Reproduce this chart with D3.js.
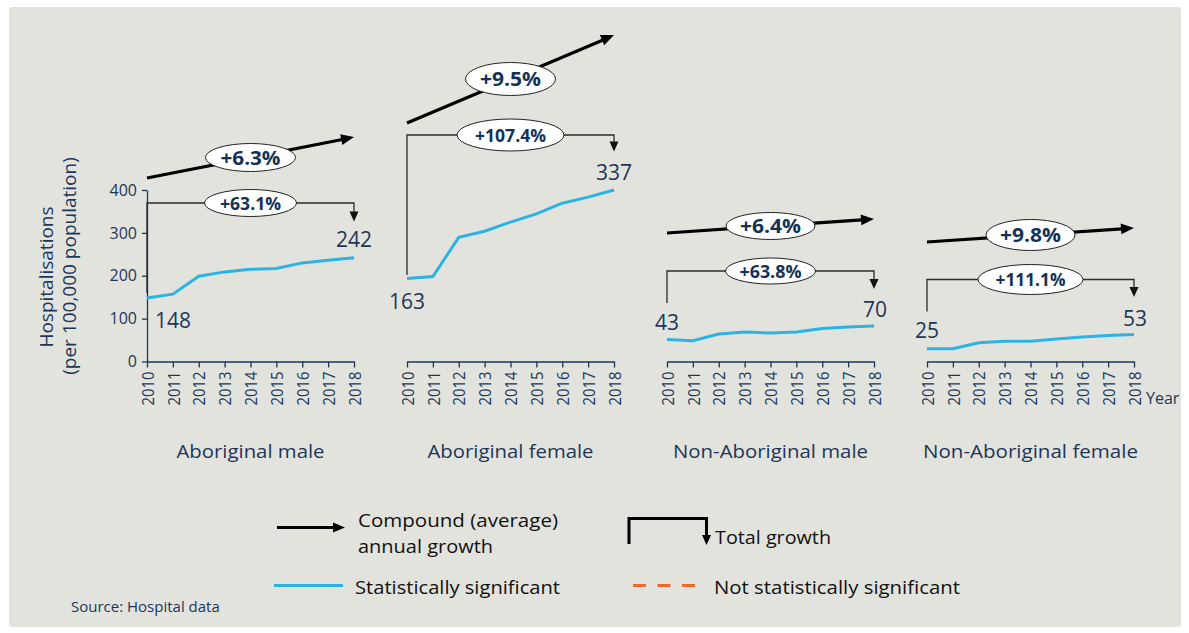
<!DOCTYPE html>
<html>
<head>
<meta charset="utf-8">
<script src="https://cdn.jsdelivr.net/npm/d3@7/dist/d3.min.js"></script>
<style>
  html, body { margin: 0; padding: 0; background: #ffffff; }
  svg { display: block; font-family: "Open Sans", "Noto Sans", sans-serif; }
</style>
</head>
<body>
<svg id="chart" width="1189" height="633"></svg>
<script>
// Hospitalisation rates per 100,000 population, 2010–2018
const years = [2010, 2011, 2012, 2013, 2014, 2015, 2016, 2017, 2018];
const groups = ["Aboriginal male", "Aboriginal female", "Non-Aboriginal male", "Non-Aboriginal female"];
const aboriginalMale = [148, 157, 199, 209, 215, 217, 230, 236, 242];
const aboriginalFemale = [163, 167, 244, 256, 274, 290, 311, 323, 337];
const nonAboriginalMale = [43, 41, 54, 58, 56, 58, 65, 68, 70];
const nonAboriginalFemale = [25, 25, 37, 40, 40, 44, 48, 51, 53];
const compoundGrowth = ["+6.3%", "+9.5%", "+6.4%", "+9.8%"];
const totalGrowth = ["+63.1%", "+107.4%", "+63.8%", "+111.1%"];
const yTicks = [0, 100, 200, 300, 400];

const seriesValues = [aboriginalMale, aboriginalFemale, nonAboriginalMale, nonAboriginalFemale];

// Vertical extent of each small multiple's value axis
const yDomainMax = [400, 337, 337, 337];

// Annotation geometry (pixels) for each panel
const compoundLayout = [
  { y0: 178, y1: 137, w: 90, h: 28, tl: 60 },
  { y0: 123, y1: 35,  w: 90, h: 33, tl: 61 },
  { y0: 233, y1: 219, w: 89, h: 27, tl: 61 },
  { y0: 242, y1: 228, w: 89, h: 31, tl: 61 }
];
const bracketLayout = [
  { bottom: 293, top: 203, tip: 221.5, w: 92,  h: 27, tl: 61 },
  { bottom: 275, top: 135, tip: 151.5, w: 107, h: 32, tl: 71 },
  { bottom: 303, top: 271, tip: 289,   w: 90,  h: 26, tl: 62 },
  { bottom: 311.5, top: 279.5, tip: 297, w: 105, h: 30, tl: 70 }
];
// Where the first / last value labels sit relative to their points
const labelLayout = [
  { first: { dx: 8, dy: 30, anchor: "start" }, last: { dx: 0, dy: -11, anchor: "middle" } },
  { first: { dx: 0, dy: 30, anchor: "middle" }, last: { dx: 0, dy: -10, anchor: "middle" } },
  { first: { dx: 0, dy: -10, anchor: "middle" }, last: { dx: 1, dy: -9, anchor: "middle" } },
  { first: { dx: 0, dy: -11, anchor: "middle" }, last: { dx: 1, dy: -9, anchor: "middle" } }
];
// Rendered widths of the group captions
const groupLabelWidth = [148, 166, 195, 215];

const NAVY = "#1d3658";
const TITLE_NAVY = "#143257";
const LINE_BLUE = "#2bb3e4";
const ORANGE = "#f0682d";

const svg = d3.select("#chart");

// Panel background
svg.append("rect")
  .attr("x", 9).attr("y", 7)
  .attr("width", 1172).attr("height", 620)
  .attr("rx", 3)
  .attr("fill", "#e3e3de");

const plotTop = 190, plotBottom = 361.5;
const panelStart = 147, panelStep = 260, panelWidth = 207;

function arrowHead(g, tipX, tipY, angle, len, half, fill) {
  const pts = [[0, 0], [-len, -half], [-len, half]].map(([px, py]) => [
    tipX + px * Math.cos(angle) - py * Math.sin(angle),
    tipY + px * Math.sin(angle) + py * Math.cos(angle)
  ]);
  g.append("path").attr("d", "M" + pts.map(p => p.join(",")).join("L") + "Z").attr("fill", fill);
}

groups.forEach((name, i) => {
  const x0 = panelStart + i * panelStep;
  const x = d3.scaleLinear().domain([2010, 2018]).range([x0, x0 + panelWidth]);
  const y = d3.scaleLinear().domain([0, yDomainMax[i]]).range([plotBottom, plotTop]);
  const values = seriesValues[i];
  const g = svg.append("g");

  // Year axis
  const xAxis = g.append("g")
    .attr("transform", `translate(0,${plotBottom})`)
    .call(d3.axisBottom(x).tickValues(years).tickFormat(d3.format("d")).tickSize(6).tickSizeOuter(0));
  xAxis.attr("font-size", null).attr("font-family", null);
  xAxis.select(".domain").attr("stroke", NAVY).attr("stroke-width", 1.3);
  xAxis.selectAll(".tick line").attr("stroke", NAVY).attr("stroke-width", 1.3);
  xAxis.selectAll(".tick text")
    .attr("transform", "rotate(-90)")
    .attr("x", -10).attr("y", 0).attr("dy", "0.36em")
    .attr("text-anchor", "end")
    .attr("fill", NAVY)
    .attr("textLength", 34).attr("lengthAdjust", "spacingAndGlyphs")
    .style("font-size", "17px");

  // Value axis on the first panel only
  if (i === 0) {
    const yAxis = g.append("g")
      .attr("transform", `translate(${x0},0)`)
      .call(d3.axisLeft(y).tickValues(yTicks).tickSize(5).tickSizeOuter(0));
    yAxis.attr("font-size", null).attr("font-family", null);
    yAxis.select(".domain").attr("stroke", NAVY).attr("stroke-width", 1.3);
    yAxis.selectAll(".tick line").attr("stroke", NAVY).attr("stroke-width", 1.3);
    yAxis.selectAll(".tick text")
      .attr("x", -10)
      .attr("fill", NAVY)
      .style("font-size", "16px");
  }

  // Trend line
  const line = d3.line().x((d, k) => x(years[k])).y(d => y(d));
  g.append("path")
    .datum(values)
    .attr("d", line)
    .attr("fill", "none")
    .attr("stroke", LINE_BLUE)
    .attr("stroke-width", 3);

  // First and last value labels
  const lay = labelLayout[i];
  [[0, lay.first], [values.length - 1, lay.last]].forEach(([k, l]) => {
    g.append("text")
      .attr("x", x(years[k]) + l.dx)
      .attr("y", y(values[k]) + l.dy)
      .attr("text-anchor", l.anchor)
      .attr("fill", NAVY)
      .style("font-size", "21px")
      .text(values[k]);
  });

  // Total growth bracket
  const b = bracketLayout[i];
  const xs = x(2010), xe = x(2018);
  g.append("path")
    .attr("d", `M${xs},${b.bottom}V${b.top}H${xe}V${b.tip - 8}`)
    .attr("fill", "none")
    .attr("stroke", "#2a2a2a")
    .attr("stroke-width", 1.3);
  arrowHead(g, xe, b.tip, Math.PI / 2, 10, 4.5, "#111");
  const bcx = (xs + xe) / 2;
  g.append("ellipse")
    .attr("cx", bcx).attr("cy", b.top)
    .attr("rx", b.w / 2).attr("ry", b.h / 2)
    .attr("fill", "#ffffff").attr("stroke", "#222").attr("stroke-width", 1);
  g.append("text")
    .attr("x", bcx).attr("y", b.top + 6.5)
    .attr("text-anchor", "middle")
    .attr("fill", TITLE_NAVY)
    .attr("textLength", b.tl).attr("lengthAdjust", "spacingAndGlyphs")
    .style("font-size", "17px").style("font-weight", 700)
    .text(totalGrowth[i]);

  // Compound annual growth arrow
  const c = compoundLayout[i];
  const ang = Math.atan2(c.y1 - c.y0, xe - xs);
  const headLen = 13;
  g.append("line")
    .attr("x1", xs).attr("y1", c.y0)
    .attr("x2", xe - headLen * Math.cos(ang) + 1).attr("y2", c.y1 - headLen * Math.sin(ang))
    .attr("stroke", "#000").attr("stroke-width", 3.2);
  arrowHead(g, xe, c.y1, ang, headLen, 5.5, "#000");
  const ccx = (xs + xe) / 2, ccy = (c.y0 + c.y1) / 2;
  g.append("ellipse")
    .attr("cx", ccx).attr("cy", ccy)
    .attr("rx", c.w / 2).attr("ry", c.h / 2)
    .attr("fill", "#ffffff").attr("stroke", "#222").attr("stroke-width", 1);
  g.append("text")
    .attr("x", ccx).attr("y", ccy + 7)
    .attr("text-anchor", "middle")
    .attr("fill", TITLE_NAVY)
    .attr("textLength", c.tl).attr("lengthAdjust", "spacingAndGlyphs")
    .style("font-size", "19px").style("font-weight", 700)
    .text(compoundGrowth[i]);

  // Group name
  g.append("text")
    .attr("x", bcx).attr("y", 458)
    .attr("text-anchor", "middle")
    .attr("fill", NAVY)
    .attr("textLength", groupLabelWidth[i]).attr("lengthAdjust", "spacingAndGlyphs")
    .style("font-size", "19px")
    .text(name);
});

// "Year" caption beside the last axis
svg.append("text")
  .attr("x", 1146).attr("y", 404)
  .attr("fill", NAVY)
  .style("font-size", "16px")
  .text("Year");

// Value axis title
const yTitle = svg.append("g").attr("fill", NAVY).style("font-size", "19px");
yTitle.append("text")
  .attr("transform", "translate(53,277) rotate(-90)")
  .attr("text-anchor", "middle")
  .text("Hospitalisations");
yTitle.append("text")
  .attr("transform", "translate(76,266) rotate(-90)")
  .attr("text-anchor", "middle")
  .text("(per 100,000 population)");

// Legend
const legend = svg.append("g");
legend.append("line")
  .attr("x1", 277).attr("y1", 527.5).attr("x2", 335).attr("y2", 527.5)
  .attr("stroke", "#000").attr("stroke-width", 3);
arrowHead(legend, 345, 527.5, 0, 12, 5, "#000");

legend.append("path")
  .attr("d", "M629,544V518.5H706.5V536")
  .attr("fill", "none").attr("stroke", "#000").attr("stroke-width", 3);
arrowHead(legend, 706.5, 545, Math.PI / 2, 10, 4.5, "#000");

legend.append("line")
  .attr("x1", 274).attr("y1", 585.5).attr("x2", 343).attr("y2", 585.5)
  .attr("stroke", LINE_BLUE).attr("stroke-width", 3);
legend.append("line")
  .attr("x1", 633).attr("y1", 585.5).attr("x2", 695).attr("y2", 585.5)
  .attr("stroke", ORANGE).attr("stroke-width", 3)
  .attr("stroke-dasharray", "13,11.5");

const legendTexts = [
  { x: 358, y: 527, t: "Compound (average)", w: 200 },
  { x: 358, y: 553, t: "annual growth", w: 135 },
  { x: 715, y: 544, t: "Total growth", w: 116 },
  { x: 355, y: 594, t: "Statistically significant", w: 205 },
  { x: 714, y: 594, t: "Not statistically significant", w: 246 }
];
legend.selectAll("text.leg")
  .data(legendTexts)
  .join("text")
  .attr("class", "leg")
  .attr("x", d => d.x).attr("y", d => d.y)
  .attr("fill", "#111")
  .attr("textLength", d => d.w).attr("lengthAdjust", "spacingAndGlyphs")
  .style("font-size", "19px")
  .text(d => d.t);

// Source note
svg.append("text")
  .attr("x", 71).attr("y", 612)
  .attr("fill", NAVY)
  .style("font-size", "15px")
  .text("Source: Hospital data");
</script>
</body>
</html>
